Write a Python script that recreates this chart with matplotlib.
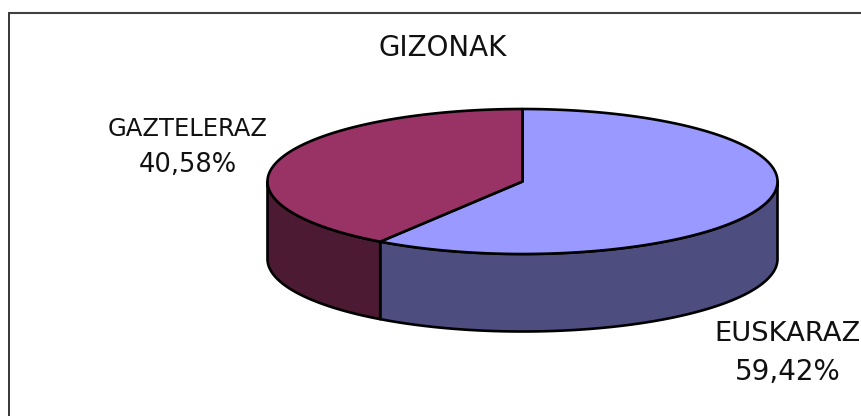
import numpy as np
import matplotlib
matplotlib.use("Agg")
import matplotlib.pyplot as plt
from matplotlib.patches import Polygon

categories = ["EUSKARAZ", "GAZTELERAZ"]
values = [59.42, 40.58]
value_labels = ["59,42%", "40,58%"]
title = "GIZONAK"

W, H = 861, 416
CX, CY, RX, RY, DEPTH = 522.5, 181.5, 255, 72.5, 77.5
top_colors = ["#9999FF", "#993366"]
side_colors = ["#4D4D80", "#4D1A33"]
LW = 1.9

fig = plt.figure(figsize=(W / 100, H / 100), dpi=100)
ax = fig.add_axes([0, 0, 1, 1])
ax.axis("off")
ax.plot([8.5, 8.5], [13, H], color="black", lw=1.1, zorder=1, solid_capstyle="butt")
ax.plot([8, W], [13, 13], color="#404040", lw=1.5, zorder=1, solid_capstyle="butt")
ax.set_xlim(0, W)
ax.set_ylim(H, 0)


def pt(theta, dy=0.0):
    # theta: clockwise from the top of the pie
    return CX + RX * np.sin(theta), CY - RY * np.cos(theta) + dy


fracs = np.array(values) / sum(values)
edges = np.concatenate([[0], np.cumsum(fracs)]) * 2 * np.pi

for i in range(len(values)):
    a0, a1 = edges[i], edges[i + 1]
    # visible side wall: the front half, theta between pi/2 and 3pi/2
    s0, s1 = max(a0, np.pi / 2), min(a1, 3 * np.pi / 2)
    if s1 > s0:
        t = np.linspace(s0, s1, 200)
        xu, yu = pt(t)
        xl, yl = pt(t[::-1], DEPTH)
        ax.add_patch(Polygon(np.r_[np.c_[xu, yu], np.c_[xl, yl]], closed=True,
                             fc=side_colors[i], ec="black", lw=LW, joinstyle="round", zorder=2))

for i in range(len(values)):
    t = np.linspace(edges[i], edges[i + 1], 400)
    x, y = pt(t)
    ax.add_patch(Polygon(np.r_[[[CX, CY]], np.c_[x, y]], closed=True,
                         fc=top_colors[i], ec="black", lw=LW, joinstyle="round", zorder=3))

font = dict(family="DejaVu Sans", color="#111111", ha="center", va="center")
ax.text(442.5, 48, title, fontsize=20, **font)
ax.text(188, 129, categories[1], fontsize=17.5, **font)
ax.text(188, 165, value_labels[1], fontsize=18.5, **font)
ax.text(787.5, 334, categories[0], fontsize=19.7, **font)
ax.text(787.5, 372, value_labels[0], fontsize=20, **font)

fig.savefig("out.png", dpi=100)
